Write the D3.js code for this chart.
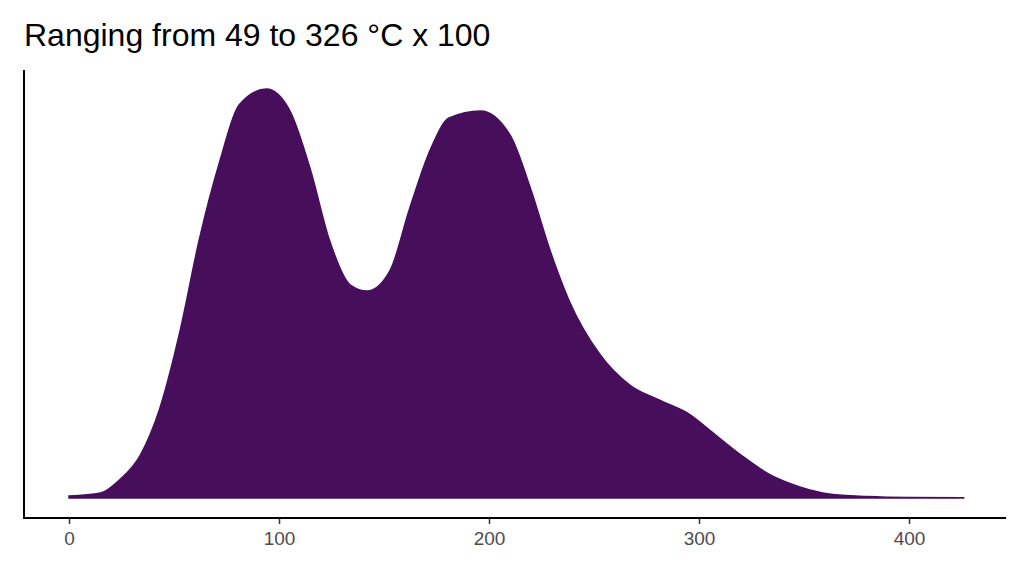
<!DOCTYPE html>
<html><head><meta charset="utf-8">
<script src="https://cdn.jsdelivr.net/npm/d3@7"></script>
<style>body{margin:0;background:#fff}</style></head>
<body><svg id="c" width="1024" height="576"></svg>
<script>
const xs = [0,15,24,34,43,53,62,72,81,94,105,115,124,134,142,153,162,172,181,196,210,220,229,238,253,267,281,296,305,320,334,348,362,380,400,426];
const dens = [2,5,18,43,88,168,258,338,393,409,388,328,258,213,207,228,288,348,380,387,363,308,248,198,143,113,98,83,68,43,23,11,4,1.5,0.5,0.3];
const ticks = [0,100,200,300,400];
const title = "Ranging from 49 to 326 °C x 100";

const svg = d3.select("#c");
const x = d3.scaleLinear([0,400],[69,909]);
const y = d3.scaleLinear([0,409],[498,89]);
const pts = xs.map((v,i)=>[v,dens[i]]);

svg.append("path")
  .attr("d", d3.area().x(d=>x(d[0])).y0(y(0)).y1(d=>y(d[1])).curve(d3.curveMonotoneX)(pts))
  .attr("fill","#470e5c").attr("stroke","#470e5c").attr("stroke-width",1.5);

const ax = svg.append("g").attr("transform","translate(0,518)")
  .call(d3.axisBottom(x).tickValues(ticks).tickSize(6).tickPadding(8).tickFormat(d3.format("d")));
ax.select(".domain").remove();
ax.selectAll("line").attr("stroke","#333").attr("stroke-width",1.5);
ax.selectAll("text").attr("font-family","Liberation Sans, Arial, sans-serif").attr("font-size",19).attr("fill","#4d4d4d");

svg.append("line").attr("x1",24).attr("x2",1006).attr("y1",518).attr("y2",518).attr("stroke","#000").attr("stroke-width",2);
svg.append("line").attr("x1",24).attr("x2",24).attr("y1",70).attr("y2",519).attr("stroke","#000").attr("stroke-width",2);

svg.append("text").attr("x",24).attr("y",46).text(title)
  .attr("font-family","Liberation Sans, Arial, sans-serif").attr("font-size",32).attr("fill","#000");
</script></body></html>
